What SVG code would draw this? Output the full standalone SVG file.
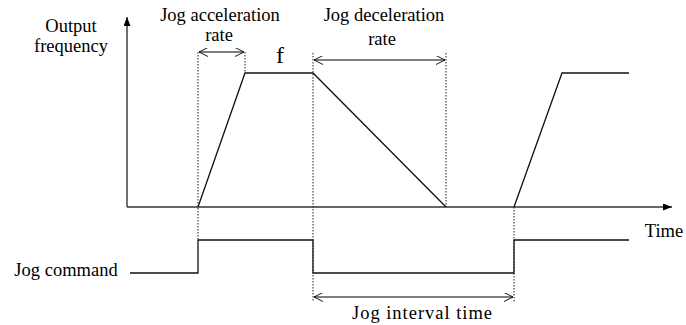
<svg xmlns="http://www.w3.org/2000/svg" width="686" height="325" viewBox="0 0 686 325">
<defs>
<marker id="ah" viewBox="0 0 10 10" refX="10" refY="5" markerWidth="9" markerHeight="7" markerUnits="userSpaceOnUse" orient="auto" preserveAspectRatio="none"><path d="M10,5 L0,0 L0,10 Z" fill="#000"/></marker>
<marker id="dim" viewBox="0 0 10 10" refX="10" refY="5" markerWidth="9" markerHeight="9" markerUnits="userSpaceOnUse" orient="auto-start-reverse"><path d="M0,0 L10,5 L0,10" fill="none" stroke="#000" stroke-width="1"/></marker>
</defs>
<style>
text{font-family:"Liberation Serif","Times New Roman",serif;font-size:18.5px;fill:#000}
.ax{stroke:#333;stroke-width:1.4;fill:none}
.ln{stroke:#111;stroke-width:1.3;fill:none}
.dash{stroke:#222;stroke-width:1;stroke-dasharray:1.5,1.5;fill:none}
.dimln{stroke:#555;stroke-width:1.3;fill:none}
</style>
<rect width="686" height="325" fill="#fff"/>
<g id="axes">
<line class="ax" x1="127" y1="207" x2="127" y2="17" marker-end="url(#ah)"/>
<line class="ax" x1="127" y1="207" x2="672" y2="207" marker-end="url(#ah)"/>
</g>
<g id="frequency-curve">
<polyline class="ln" points="198,207 245,73 313,73 446,207"/>
<polyline class="ln" points="514,207 562,73 629,73"/>
</g>
<g id="jog-command">
<polyline class="ln" points="130,273 198,273 198,240 313,240 313,273 514,273 514,240 629,240"/>
</g>
<g id="guides">
<line class="dash" x1="198" y1="52" x2="198" y2="240"/>
<line class="dash" x1="245" y1="52" x2="245" y2="73"/>
<line class="dash" x1="313" y1="53" x2="313" y2="302"/>
<line class="dash" x1="446" y1="53" x2="446" y2="207"/>
<line class="dash" x1="514" y1="207" x2="514" y2="302"/>
</g>
<g id="connectors">
<line class="dimln" x1="199" y1="52" x2="244" y2="52" marker-start="url(#dim)" marker-end="url(#dim)"/>
<line class="dimln" x1="314" y1="60" x2="445" y2="60" marker-start="url(#dim)" marker-end="url(#dim)"/>
<line class="dimln" x1="314" y1="297" x2="513" y2="297" marker-start="url(#dim)" marker-end="url(#dim)"/>
</g>
<g id="labels">
<text x="71" y="32" text-anchor="middle">Output</text>
<text x="71" y="52" text-anchor="middle">frequency</text>
<text x="220" y="21" text-anchor="middle">Jog acceleration</text>
<text x="219" y="41" text-anchor="middle">rate</text>
<text x="280" y="63" text-anchor="middle" style="font-size:24px">f</text>
<text x="384" y="21" text-anchor="middle">Jog deceleration</text>
<text x="382" y="45" text-anchor="middle">rate</text>
<text x="664" y="237" text-anchor="middle">Time</text>
<text x="66" y="276" text-anchor="middle">Jog command</text>
<text x="422" y="319" text-anchor="middle" textLength="140" lengthAdjust="spacing">Jog interval time</text>
</g>
</svg>
